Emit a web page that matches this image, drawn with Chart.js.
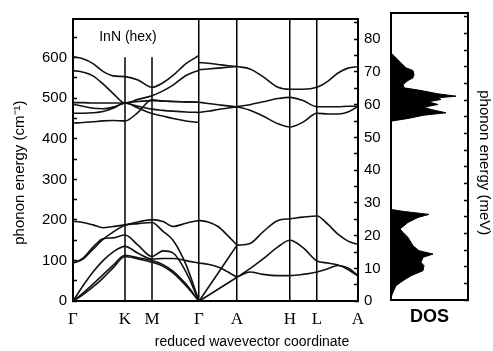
<!DOCTYPE html>
<html>
<head>
<meta charset="utf-8">
<script src="https://cdn.jsdelivr.net/npm/chart.js"></script>
<style>
  body { margin: 0; background: #fff; }
  #wrap { position: relative; width: 493px; height: 351px; }
  canvas { position: absolute; left: 0; top: 0; }
</style>
</head>
<body>
<div id="wrap">
  <canvas id="disp" width="493" height="351"></canvas>
  <canvas id="dos" width="493" height="351"></canvas>
</div>
<script>
// high symmetry points along the path (reduced coordinate, arbitrary units)
const symLabels = ['Γ', 'K', 'M', 'Γ', 'A', 'H', 'L', 'A'];
const symPos = [0, 52, 79, 126, 164, 217, 244, 285];
const kmTop = 601;          // K and M markers stop here
const eMax = 695;           // cm-1 at top of frame
const cmPerMeV = 8.0655;
const tagText = 'InN (hex)';
const tagPos = [55, 650];

// Γ - K - M - Γ
const gkmg = [0, 10, 20, 30, 40, 52, 65, 79, 90, 100, 113, 126];
const opt1 = [602, 597, 585, 566, 555, 553, 545, 527, 538, 556, 585, 605];
const opt2 = [568, 564, 555, 535, 512, 488, 497, 506, 518, 532, 556, 569];
const opt3 = [489, 489, 488, 488, 488, 488, 476, 462, 456, 450, 444, 440];
const opt4 = [485, 480, 475, 474, 478, 488, 492, 494, 493, 492, 491, 490];
const opt5 = [463, 463, 464, 467, 475, 488, 480, 473, 470, 468, 466, 465];
const opt6 = [439, 440, 442, 444, 445, 444, 465, 496, 493, 492, 491, 490];
const low1 = [197, 194, 188, 181, 184, 188, 195, 201, 196, 184, 192, 199];
const low2 = [94, 104, 128, 152, 170, 187, 191, 194, 172, 150, 90, 0];
const low3 = [94, 106, 133, 154, 156, 163, 138, 110, 124, 119, 72, 0];
const ac1 = [0, 38, 72, 100, 121, 135, 118, 104, 105, 105, 100, 94];
const ac2 = [0, 20, 42, 65, 88, 113, 107, 100, 90, 74, 42, 0];
const ac3 = [0, 16, 35, 57, 82, 110, 104, 96, 86, 70, 38, 0];

// Γ - A
const ga = [126, 135, 145, 155, 164];
const gaOpt1 = [588, 586, 583, 580, 578];
const gaOpt2 = [570, 572, 574, 576, 578];
const gaOpt3 = [490, 487, 484, 481, 479];
const gaOpt4 = [465, 468, 472, 476, 479];
const gaLow1 = [199, 195, 184, 161, 138];
const gaLow2 = [94, 91, 84, 72, 59];
const gaEnds = [126, 164];
const gaLA = [0, 138];
const gaTA = [0, 59];

// A - H - L - A
const ahla = [164, 177, 190, 205, 217, 230, 244, 255, 265, 275, 285];
const ahOpt1 = [578, 572, 553, 527, 522, 522, 527, 542, 562, 574, 578];
const ahOpt2 = [479, 484, 491, 499, 502, 494, 479, 479, 479, 480, 480];
const ahOpt3 = [479, 470, 456, 437, 429, 441, 463, 461, 461, 466, 480];
const ahLow1 = [138, 142, 171, 199, 203, 207, 210, 189, 165, 148, 140];
const ahLow2 = [59, 80, 104, 134, 150, 132, 99, 94, 89, 78, 62];
const ahLow3 = [59, 72, 66, 63, 63, 66, 72, 80, 88, 82, 63];

// phonon density of states (meV, arb. units)
const dosMeV = [0, 0.8, 2.3, 4.3, 5.8, 7.3, 8.8, 10.3, 11.3, 12.8, 13.8, 14.8, 16.3, 18.8, 20.3, 21.3,
  23.3, 24.8, 25.7, 26.7, 27.2, 53.7, 54.5, 55.5, 56.2, 57.2, 57.9, 58.7, 59.5, 60.2, 60.7, 61.2,
  61.9, 62.9, 63.7, 64.7, 65.9, 66.7, 67.7, 68.9, 69.7, 71.2, 72.7, 74.2];
const dosVal = [0, 0, 2, 5, 12, 20, 32, 33, 30, 32, 42, 28, 22, 17, 12, 9,
  17, 27, 38, 10, 0, 0, 17, 33, 55, 40, 33, 47, 37, 50, 47, 65,
  47, 30, 13, 12, 17, 22, 23, 22, 15, 10, 5, 0];
const dosMax = 77;

Chart.defaults.font.family = '"Liberation Sans", Arial, sans-serif';
Chart.defaults.color = '#000';

const ink = '#111';
function seg(xs, ys) {
  return {
    data: xs.map((x, i) => ({x: x, y: ys[i]})),
    xAxisID: 'x', yAxisID: 'y',
    borderColor: ink, borderWidth: 1.6, pointRadius: 0,
    cubicInterpolationMode: 'monotone', fill: false
  };
}
function marker(x) {
  return {
    data: [{x: x, y: 0}, {x: x, y: kmTop}],
    xAxisID: 'x', yAxisID: 'y',
    borderColor: '#000', borderWidth: 1.5, pointRadius: 0, tension: 0, fill: false
  };
}

const datasets = [
  ...[opt1, opt2, opt3, opt4, opt5, opt6, low1, low2, low3, ac1, ac2, ac3].map(b => seg(gkmg, b)),
  ...[gaOpt1, gaOpt2, gaOpt3, gaOpt4, gaLow1, gaLow2].map(b => seg(ga, b)),
  seg(gaEnds, gaLA), seg(gaEnds, gaTA),
  ...[ahOpt1, ahOpt2, ahOpt3, ahLow1, ahLow2, ahLow3].map(b => seg(ahla, b)),
  marker(symPos[1]), marker(symPos[2])
];

const tagPlugin = {
  id: 'tag',
  afterDatasetsDraw(chart) {
    const {ctx, scales} = chart;
    ctx.save();
    ctx.font = '14px "Liberation Sans", Arial, sans-serif';
    ctx.fillStyle = '#000';
    ctx.textAlign = 'center';
    ctx.textBaseline = 'middle';
    ctx.fillText(tagText, scales.x.getPixelForValue(tagPos[0]), scales.y.getPixelForValue(tagPos[1]));
    ctx.restore();
  }
};

const frame = { color: '#000', width: 2 };
const inTicks = { drawOnChartArea: false, drawTicks: true, tickLength: -4, tickColor: '#000', tickWidth: 1.5 };

new Chart(document.getElementById('disp'), {
  type: 'line',
  data: { datasets: datasets },
  plugins: [tagPlugin],
  options: {
    responsive: false,
    animation: false,
    devicePixelRatio: 1,
    layout: { padding: { left: 11, top: 14, right: 0, bottom: 0 } },
    plugins: {
      legend: { display: false },
      tooltip: { enabled: false },
      title: {
        display: true, position: 'bottom', text: 'reduced wavevector coordinate',
        font: { size: 14, weight: 'normal' }, color: '#000', padding: 0
      }
    },
    scales: {
      x: {
        type: 'linear', min: 0, max: 285,
        afterBuildTicks: s => { s.ticks = symPos.map(v => ({value: v})); },
        ticks: {
          callback: (v, i) => symLabels[i], autoSkip: false, maxRotation: 0, padding: 8,
          font: { family: '"Liberation Serif", "Times New Roman", serif', size: 17 }
        },
        grid: {
          color: c => (c.index === 1 || c.index === 2) ? 'rgba(0,0,0,0)' : '#000',
          lineWidth: 1.5, drawTicks: false
        },
        border: frame,
        afterFit: s => { s.height = 33; }
      },
      y: {
        type: 'linear', position: 'left', min: 0, max: eMax,
        ticks: {
          stepSize: 50, includeBounds: false, autoSkip: false, padding: 10, font: { size: 15 },
          callback: v => v % 100 === 0 ? v : ''
        },
        grid: inTicks,
        border: frame,
        title: { display: true, text: 'phonon energy (cm⁻¹)      ', font: { size: 15 }, padding: 0 },
        afterFit: s => { s.width = 62; }
      },
      y2: {
        type: 'linear', position: 'right', min: 0, max: eMax / cmPerMeV,
        ticks: {
          stepSize: 5, includeBounds: false, autoSkip: false, padding: 10, font: { size: 15 },
          callback: v => v % 10 === 0 ? v : ''
        },
        grid: inTicks,
        border: frame,
        afterFit: s => { s.width = 135; }
      },
      x2: {
        type: 'linear', position: 'top', min: 0, max: 285,
        ticks: { display: false },
        grid: { drawOnChartArea: false, drawTicks: false },
        border: frame,
        afterFit: s => { s.height = 0; }
      }
    }
  }
});

new Chart(document.getElementById('dos'), {
  type: 'line',
  data: {
    datasets: [{
      data: dosMeV.map((e, i) => ({x: dosVal[i], y: e})),
      xAxisID: 'x', yAxisID: 'y',
      borderColor: '#000', backgroundColor: '#000', borderWidth: 1,
      pointRadius: 0, tension: 0, fill: 'origin'
    }]
  },
  options: {
    indexAxis: 'y',
    responsive: false,
    animation: false,
    devicePixelRatio: 1,
    layout: { padding: { left: 391, top: 13, right: 0, bottom: 23 } },
    plugins: { legend: { display: false }, tooltip: { enabled: false } },
    scales: {
      x: {
        type: 'linear', position: 'bottom', min: 0, max: dosMax,
        ticks: { display: false },
        grid: { drawOnChartArea: false, drawTicks: false },
        border: frame,
        title: { display: true, text: 'DOS', font: { size: 18, weight: 'bold' }, padding: 0 },
        afterFit: s => { s.height = 28; }
      },
      x2: {
        type: 'linear', position: 'top', min: 0, max: dosMax,
        ticks: { display: false },
        grid: { drawOnChartArea: false, drawTicks: false },
        border: frame,
        afterFit: s => { s.height = 0; }
      },
      yl: {
        type: 'linear', position: 'left', min: 0, max: eMax / cmPerMeV,
        ticks: { display: false },
        grid: { drawOnChartArea: false, drawTicks: false },
        border: frame,
        afterFit: s => { s.width = 0; }
      },
      y: {
        type: 'linear', position: 'right', min: 0, max: eMax / cmPerMeV,
        ticks: { stepSize: 5, includeBounds: false, autoSkip: false, padding: 0, callback: () => '' },
        grid: inTicks,
        border: frame,
        title: { display: true, text: '   phonon energy (meV)', font: { size: 15 }, padding: 0 },
        afterFit: s => { s.width = 25; }
      }
    }
  }
});
</script>
</body>
</html>
